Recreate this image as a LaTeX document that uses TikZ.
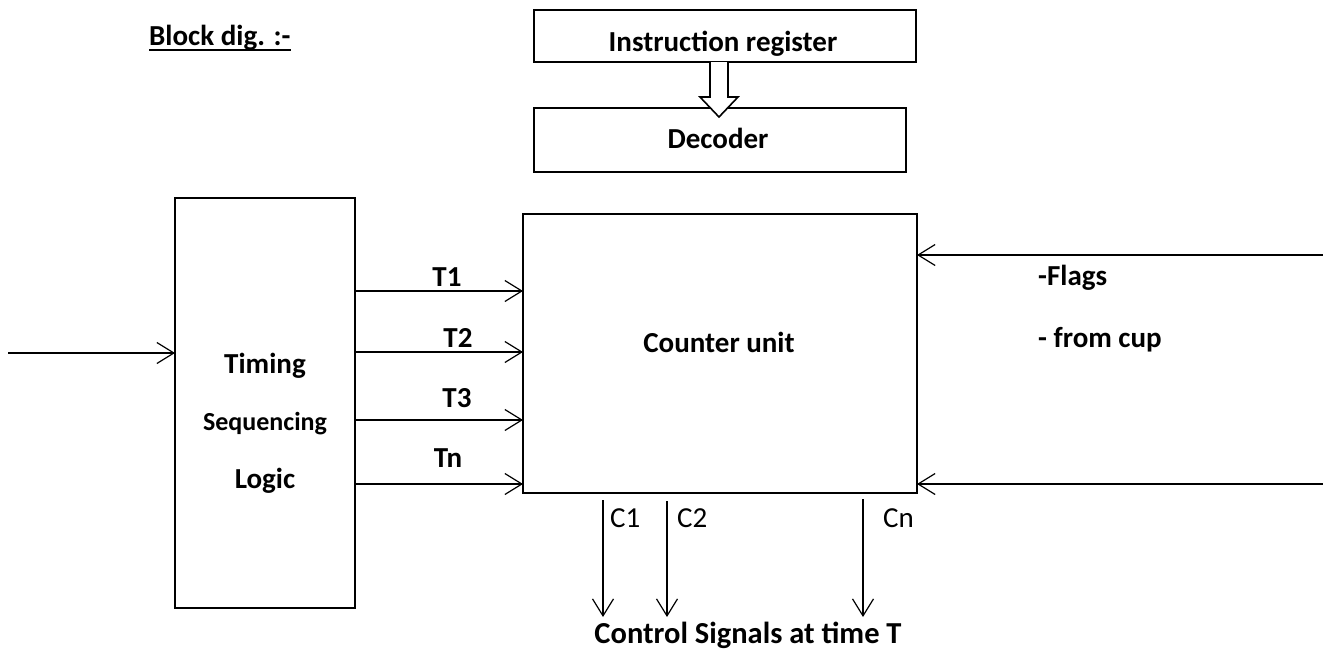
\documentclass[tikz,border=0pt]{standalone}
\usepackage{fontspec}
\setmainfont{Carlito}
\usetikzlibrary{arrows.meta}
\begin{document}
\begin{tikzpicture}[x=1pt,y=-1pt,
  box/.style={draw,line width=2.6pt,inner sep=0pt,outer sep=0pt,anchor=north west},
  lbl/.style={font=\fontsize{29}{35}\selectfont\bfseries,anchor=base,inner sep=0pt},
  lblsm/.style={font=\fontsize{26}{31}\selectfont\bfseries,anchor=base,inner sep=0pt},
  rlbl/.style={font=\fontsize{29}{35}\selectfont,anchor=base west,inner sep=0pt},
  sig/.style={line width=1.2pt,-{Straight Barb[length=17pt,width=21pt,line width=1.2pt]}},
  hollow/.style={draw,line width=1.6pt,fill=white,line join=miter}]
\useasboundingbox (0,0) rectangle (1323,654);
% boxes
\node[box,minimum width=382pt,minimum height=52pt] (ir) at (534,10) {};
\node[box,minimum width=372pt,minimum height=64pt] (dec) at (534,108) {};
\node[box,minimum width=180pt,minimum height=410pt] (tim) at (175,198) {};
\node[box,minimum width=394pt,minimum height=279pt] (cu) at (523,214) {};
% texts
\node[font=\fontsize{29}{35}\selectfont\bfseries,anchor=base west,inner sep=0pt] (title) at (149,45) {Block dig. :-};
\draw[line width=2.2pt] (title.base west |- 0,50) -- (title.base east |- 0,50);
\node[lbl] (irt) at (723,51) {Instruction register};
\node[lbl] (dect) at (718,148) {Decoder};
\node[lbl] (cut) at (719,352) {Counter unit};
\node[lbl] (tt1) at (265,373) {Timing};
\node[lblsm] (tt2) at (265,430) {Sequencing};
\node[lbl] (tt3) at (265,488) {Logic};
\node[lbl] (t1) at (447,286) {T1};
\node[lbl] (t2) at (458,347) {T2};
\node[lbl] (t3) at (457,407) {T3};
\node[lbl] (tn) at (448,467) {Tn};
\node[lbl,anchor=base west] (fl) at (1038,285) {-Flags};
\node[lbl,anchor=base west] (fc) at (1038,347) {- from cup};
\node[rlbl] (c1) at (610,527) {C1};
\node[rlbl] (c2) at (677,527) {C2};
\node[rlbl] (cn) at (883,527) {Cn};
\node[lbl,font=\fontsize{30.5}{36}\selectfont\bfseries] (cst) at (748,643) {Control Signals at time T};
% hollow arrow between IR and decoder
\draw[hollow] (710,62) -- (710,97) -- (700,97) -- (719,117) -- (738,97) -- (728,97) -- (728,62);
% input arrow
\coordinate (inl) at (8,353);
\draw[sig] (inl) -- (tim.west |- inl);
% T arrows
\foreach \yy/\nm in {291/a,352/b,420/c,484/d}{
  \coordinate (ty\nm) at (0,\yy);
  \draw[sig] (tim.east |- ty\nm) -- (cu.west |- ty\nm);
}
% right inputs
\coordinate (rf1) at (1323,255);
\coordinate (rf2) at (1323,484);
\draw[sig] (rf1) -- (cu.east |- rf1);
\draw[sig] (rf2) -- (cu.east |- rf2);
% C outputs
\coordinate (ce1) at (603,617);
\coordinate (ce2) at (667,617);
\coordinate (ce3) at (863,617);
\draw[sig] (cu.south -| ce1) ++(0,7) -- (ce1);
\draw[sig] (cu.south -| ce2) ++(0,8) -- (ce2);
\draw[sig] (cu.south -| ce3) ++(0,6) -- (ce3);
\end{tikzpicture}
\end{document}
